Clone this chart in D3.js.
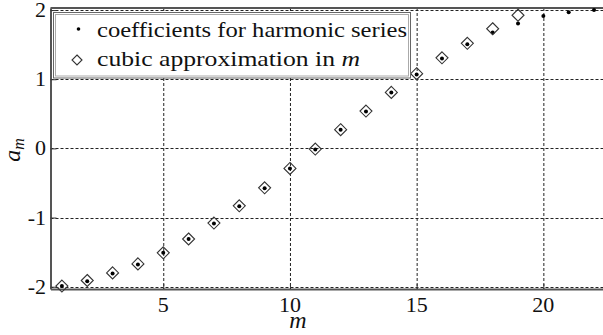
<!DOCTYPE html>
<html>
<head>
<meta charset="utf-8">
<script src="https://cdn.jsdelivr.net/npm/d3@7"></script>
</head>
<body style="margin:0">
<svg id="chart" width="603" height="335" font-family="Liberation Serif, Times New Roman, FreeSerif, serif"></svg>
<script>

// m index, coefficients
const m_values = [1,2,3,4,5,6,7,8,9,10,11,12,13,14,15,16,17,18,19,20,21,22]
const harmonic_coeffs = [-1.99, -1.92, -1.81, -1.68, -1.51, -1.31, -1.085, -0.835, -0.575, -0.29, -0.015,
						0.27, 0.535, 0.81, 1.07, 1.30, 1.505, 1.675, 1.805, 1.915, 1.97, 2.0]
// cubic approximation only drawn up to m = 19
const cubic_coeffs = [-1.99, -1.91, -1.80, -1.67, -1.51, -1.31, -1.08, -0.83, -0.57, -0.29, -0.01,
						0.27, 0.54, 0.81, 1.08, 1.31, 1.52, 1.73, 1.925]
const x_ticks = [5, 10, 15, 20]
const y_ticks = [-2, -1, 0, 1, 2]
const legend_labels = ["coefficients for harmonic series", "cubic approximation in "]

const width = 603
const plot_left = 50.5
const plot_top = 8
const plot_bottom = 289
const plot_right = 606.7
const font_name = "'Liberation Serif', 'Times New Roman', FreeSerif, serif"

const svg = d3.select("#chart")

const x = d3.scaleLinear().domain([0.55, 22.5]).range([plot_left, plot_right])
const y = d3.scaleLinear().domain([-2.033, 2.03]).range([plot_bottom, plot_top])

// plain hyphen for negatives, like the original
const tick_fmt = (d) => (d < 0 ? "-" + Math.abs(d) : "" + d)

function add_text(sel, size, italic) {
	let t = sel.append("text")
		.attr("font-size", size)
		.attr("fill", "#111")
		.attr("font-family", "Liberation Serif")
		.style("font-family", font_name)
	if (italic) t.attr("font-style", "italic")
	return t
}

// grid
let grid = svg.append("g")
grid.selectAll("line.gx")
	.data(x_ticks).enter().append("line")
	.attr("x1", (d) => x(d) + 0.5).attr("x2", (d) => x(d) + 0.5)
	.attr("y1", plot_top).attr("y2", plot_bottom)
grid.selectAll("line.gy")
	.data(y_ticks).enter().append("line")
	.attr("x1", plot_left).attr("x2", width)
	.attr("y1", (d) => Math.round(y(d)) + 0.5).attr("y2", (d) => Math.round(y(d)) + 0.5)
grid.selectAll("line")
	.attr("stroke", "#222").attr("stroke-width", 1).attr("stroke-dasharray", "3,2")

// axes (box lines, ticks inward), labels drawn by hand below
let x_axis = svg.append("g")
	.attr("transform", "translate(0," + plot_bottom + ")")
	.call(d3.axisBottom(x).tickValues(x_ticks).tickFormat("")
		.tickSizeInner(-5).tickSizeOuter(0))
let y_axis = svg.append("g")
	.attr("transform", "translate(" + plot_left + ",0)")
	.call(d3.axisLeft(y).tickValues(y_ticks).tickFormat("")
		.tickSizeInner(-6).tickSizeOuter(0))

x_axis.select(".domain").attr("stroke", "#555").attr("stroke-width", 2)
y_axis.select(".domain").attr("stroke", "#555").attr("stroke-width", 2)
x_axis.selectAll(".tick line").attr("stroke", "#333")
y_axis.selectAll(".tick line").attr("stroke", "#333")

svg.append("line")
	.attr("x1", plot_left).attr("x2", width)
	.attr("y1", plot_top).attr("y2", plot_top)
	.attr("stroke", "#555").attr("stroke-width", 2)

x_ticks.forEach((t) => {
	add_text(svg, 22, false)
		.attr("x", x(t)).attr("y", 312)
		.attr("text-anchor", "middle")
		.text(tick_fmt(t))
})
y_ticks.forEach((t) => {
	add_text(svg, 22, false)
		.attr("x", 46).attr("y", y(t) + 7)
		.attr("text-anchor", "end")
		.text(tick_fmt(t))
})

// axis labels
add_text(svg, 24, true)
	.attr("x", 298).attr("y", 328)
	.attr("text-anchor", "middle")
	.text("m")

let y_label = add_text(svg, 24, true)
	.attr("transform", "translate(20,150) rotate(-90)")
	.attr("text-anchor", "middle")
y_label.append("tspan").text("a")
y_label.append("tspan").attr("font-size", 16).attr("dy", 4).text("m")

// data
const diamond = (r) => "M0," + (-r) + "L" + r + ",0L0," + r + "L" + (-r) + ",0Z"

svg.append("g").selectAll("circle")
	.data(harmonic_coeffs).enter().append("circle")
	.attr("cx", (d, i) => x(m_values[i]))
	.attr("cy", (d) => y(d))
	.attr("r", 2)
	.attr("fill", "#000")

svg.append("g").selectAll("path")
	.data(cubic_coeffs).enter().append("path")
	.attr("d", diamond(6))
	.attr("transform", (d, i) => "translate(" + x(m_values[i]) + "," + y(d) + ")")
	.attr("fill", "none")
	.attr("stroke", "#333")
	.attr("stroke-width", 1.1)

// legend
svg.append("rect")
	.attr("x", 53.5).attr("y", 12.5).attr("width", 357).attr("height", 65.5)
	.attr("fill", "#fff").attr("stroke", "#666").attr("stroke-width", 1)
svg.append("rect")
	.attr("x", 55.5).attr("y", 14.5).attr("width", 353).attr("height", 61.5)
	.attr("fill", "none").attr("stroke", "#aaa").attr("stroke-width", 1)

svg.append("circle")
	.attr("cx", 78.5).attr("cy", 29).attr("r", 1.8).attr("fill", "#000")
svg.append("path")
	.attr("d", diamond(5))
	.attr("transform", "translate(77,60)")
	.attr("fill", "none").attr("stroke", "#333").attr("stroke-width", 1.1)

add_text(svg, 22, false)
	.attr("x", 97).attr("y", 36.5)
	.attr("textLength", 310).attr("lengthAdjust", "spacingAndGlyphs")
	.text(legend_labels[0])

let second = add_text(svg, 22, false)
	.attr("x", 97).attr("y", 66)
	.attr("textLength", 263).attr("lengthAdjust", "spacingAndGlyphs")
second.append("tspan").text(legend_labels[1])
second.append("tspan").attr("font-style", "italic").text("m")

</script>
</body>
</html>
